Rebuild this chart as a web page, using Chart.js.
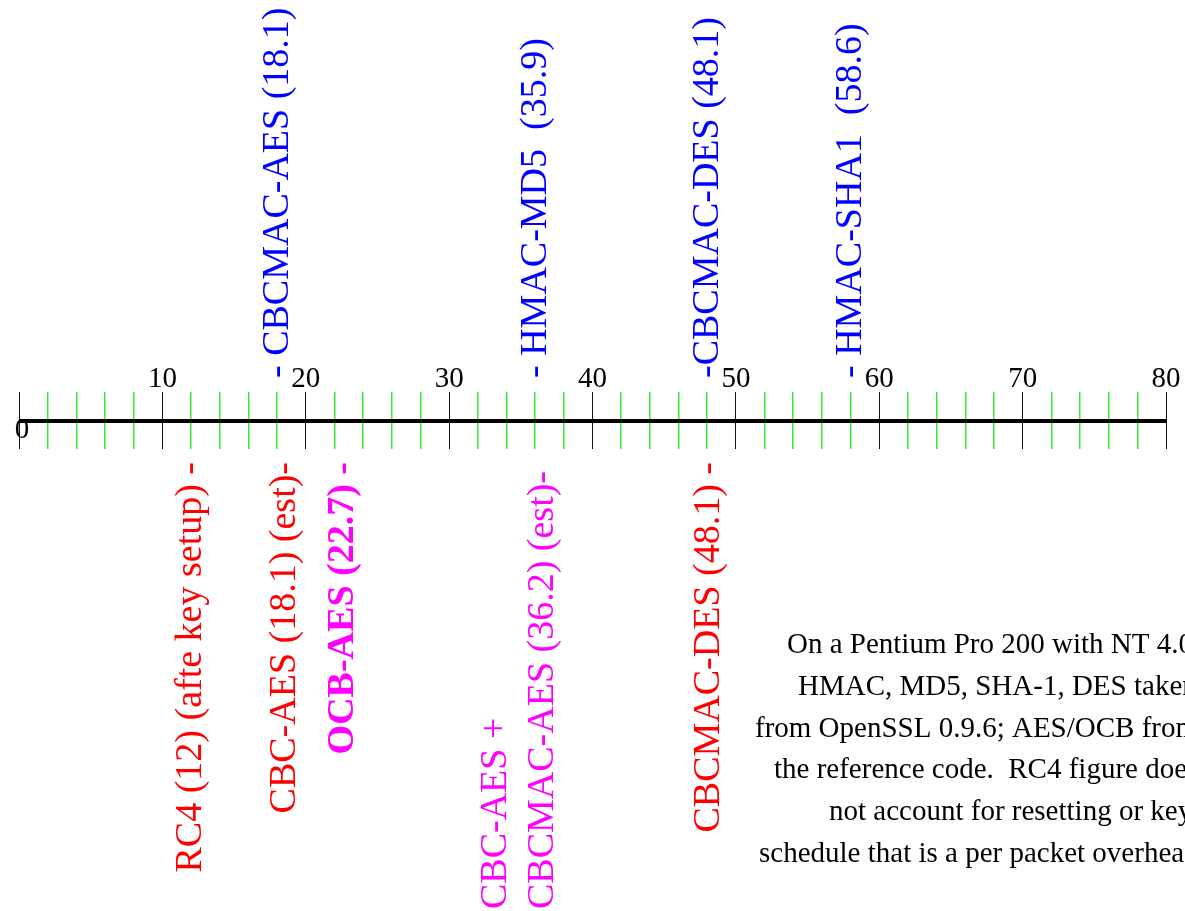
<!DOCTYPE html>
<html>
<head>
<meta charset="utf-8">
<script src="https://cdn.jsdelivr.net/npm/chart.js@4.4.1/dist/chart.umd.min.js"></script>
<style>
  html, body { margin: 0; padding: 0; background: #fff; }
  #wrap { width: 1185px; height: 911px; position: relative; }
</style>
</head>
<body>
<div id="wrap"><canvas id="chart"></canvas></div>
<script>
// Speed number line: MACs above the line, ciphers below

const axisMin = 0;
const axisMax = 80;
const tickStep = 2;
const labelStep = 10;

// MACs (blue, above the line)
const macLabels = ['- CBCMAC-AES (18.1)', '- HMAC-MD5  (35.9)', '-CBCMAC-DES (48.1)', '- HMAC-SHA1  (58.6)'];
const macValues = [18.1, 36.1, 48.1, 58.1];

// ciphers (below the line), one entry per label, several lines allowed
const cipherLabels = [
    ['RC4 (12) (afte key setup) -'],
    ['CBC-AES (18.1) (est)-'],
    ['OCB-AES (22.7) -'],
    ['CBC-AES +', 'CBCMAC-AES (36.2) (est)-'],
    ['CBCMAC-DES (48.1) -']
];
const cipherValues = [12.1, 18.6, 22.7, 36.6, 48.2];
const cipherColors = ['#ff0000', '#ff0000', '#ff00ff', '#ff00ff', '#ff0000'];
const cipherBold = [false, false, true, false, false];

// note on the right (runs off the right edge)
const noteLines = [
    'On a Pentium Pro 200 with NT 4.0;',
    'HMAC, MD5, SHA-1, DES taken',
    'from OpenSSL 0.9.6; AES/OCB from',
    'the reference code.  RC4 figure does',
    'not account for resetting or key',
    'schedule that is a per packet overhead.'
];
const noteStartX = [787, 798, 755, 774, 829, 759];

const serif = '"Liberation Serif", "Times New Roman", serif';

// draw text turned to read bottom-to-top
function drawUp(ctx, text, x, y, align) {
    ctx.save();
    ctx.translate(x, y);
    ctx.rotate(-Math.PI / 2);
    ctx.textAlign = align;
    ctx.textBaseline = 'alphabetic';
    ctx.fillText(text, 0, 0);
    ctx.restore();
}

const labelPlugin = {
    id: 'numberLineLabels',
    afterDatasetsDraw: function(chart) {
        const ctx = chart.ctx;
        const xs = chart.scales.x;
        ctx.save();

        // the zero sits on the line, half covered by it
        ctx.fillStyle = '#000';
        ctx.font = '29px ' + serif;
        ctx.textAlign = 'center';
        ctx.textBaseline = 'alphabetic';
        ctx.fillText('0', xs.getPixelForValue(axisMin) + 3, 438);

        // MAC labels
        ctx.font = '38px ' + serif;
        ctx.fillStyle = '#0000ff';
        chart.getDatasetMeta(0).data.forEach(function(pt, i) {
            drawUp(ctx, macLabels[i], pt.x + 9, 378, 'left');
        });

        // cipher labels
        chart.getDatasetMeta(1).data.forEach(function(pt, i) {
            const lines = cipherLabels[i];
            const last = lines.length - 1;
            ctx.font = (cipherBold[i] ? 'bold ' : '') + '38px ' + serif;
            ctx.fillStyle = cipherColors[i];
            if (last === 0) {
                drawUp(ctx, lines[0], pt.x + 9, 462, 'right');
                return;
            }
            const start = 471 + ctx.measureText(lines[last]).width;
            lines.forEach(function(line, j) {
                drawUp(ctx, line, pt.x + 9 - (last - j) * 47, start, 'left');
            });
        });

        // note text
        ctx.font = '29px ' + serif;
        ctx.fillStyle = '#000';
        ctx.textAlign = 'left';
        noteLines.forEach(function(line, i) {
            ctx.fillText(line, noteStartX[i], 653 + i * 41.8);
        });

        ctx.restore();
    }
};

new Chart(document.getElementById('chart'), {
    type: 'scatter',
    data: {
        datasets: [
            { label: 'MAC', data: macValues.map(v => ({ x: v, y: 0 })), pointRadius: 0, clip: false },
            { label: 'cipher', data: cipherValues.map(v => ({ x: v, y: 0 })), pointRadius: 0, clip: false }
        ]
    },
    options: {
        responsive: true,
        maintainAspectRatio: false,
        animation: false,
        events: [],
        layout: { padding: { left: 19, right: 19, top: 362, bottom: 462 } },
        plugins: {
            legend: { display: false },
            tooltip: { enabled: false }
        },
        scales: {
            x: {
                type: 'linear',
                position: 'top',
                min: axisMin,
                max: axisMax,
                afterFit: function(scale) { scale.height = 30; },
                border: { display: false },
                grid: {
                    drawTicks: false,
                    lineWidth: c => (c.tick && c.tick.value % labelStep === 0) ? 1 : 1.5,
                    color: c => (c.tick && c.tick.value % labelStep === 0) ? '#111' : '#33ee33'
                },
                ticks: {
                    stepSize: tickStep,
                    autoSkip: false,
                    maxRotation: 0,
                    padding: -5,
                    color: '#000',
                    font: { family: serif, size: 29 },
                    callback: v => (v % labelStep === 0 && v !== axisMin) ? String(v) : ''
                }
            },
            y: {
                min: -1,
                max: 1,
                afterFit: function(scale) { scale.width = 0; },
                border: { display: false },
                ticks: { display: false, stepSize: 1 },
                grid: {
                    drawTicks: false,
                    z: 1,
                    color: '#000',
                    lineWidth: c => (c.tick && c.tick.value === 0) ? 4 : 0
                }
            }
        }
    },
    plugins: [labelPlugin]
});
</script>
</body>
</html>
